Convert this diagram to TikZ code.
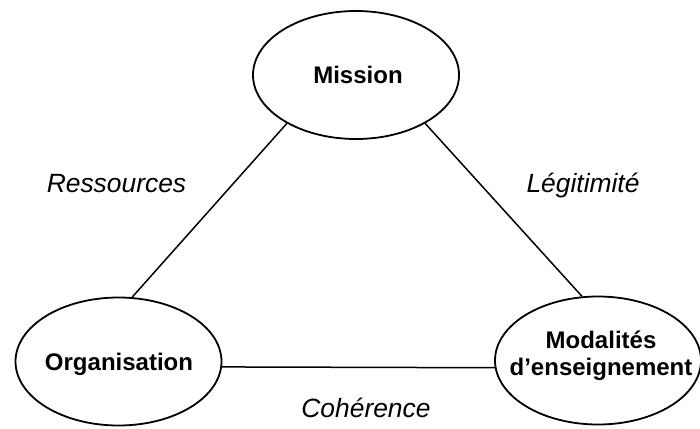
\documentclass[tikz,border=0pt]{standalone}
\usepackage{fontspec}
\setmainfont{Liberation Sans}
\usepackage{tikz}
\usetikzlibrary{shapes.geometric}
\tikzset{
pole/.style={ellipse, draw, line width=0.9pt, minimum width=103pt, minimum height=64pt, inner sep=0pt}, % the three ellipses, drawn empty
poletext/.style={font=\bfseries\fontsize{12}{13.5}\selectfont, align=center}, % the bold text inside an ellipse
link/.style={line width=0.75pt}, % the sides of the triangle
linktext/.style={font=\itshape\fontsize{13.2}{15}\selectfont, anchor=base}, % the italic words beside the sides
}

\begin{document}
\begin{tikzpicture}[x=0.5pt, y=-0.5pt]
        \useasboundingbox (0,0) rectangle (700,428);
        \node[pole] (mission) at (356,75) {};
        \node[pole] (orga) at (118.5,361.5) {};
        \node[pole] (modal) at (598,360.5) {};
        \node[poletext, anchor=base] (missiontxt) at (358,83) {Mission};
        \node[poletext, anchor=base] (orgatxt) at (119,370) {Organisation};
        \node[poletext] (modaltxt) at (601,355.5) {Modalités\\d’enseignement};
        \draw[link] (mission.215) -- (orga.78)
        (mission.325) -- (modal.104)
        (orga.-3) -- (modal.184);
        \node[linktext] (ressources) at (116.5,192) {Ressources};
        \node[linktext] (legitimite) at (583,192) {Légitimité};
        \node[linktext] (coherence) at (366,417) {Cohérence};
\end{tikzpicture}
\end{document}
